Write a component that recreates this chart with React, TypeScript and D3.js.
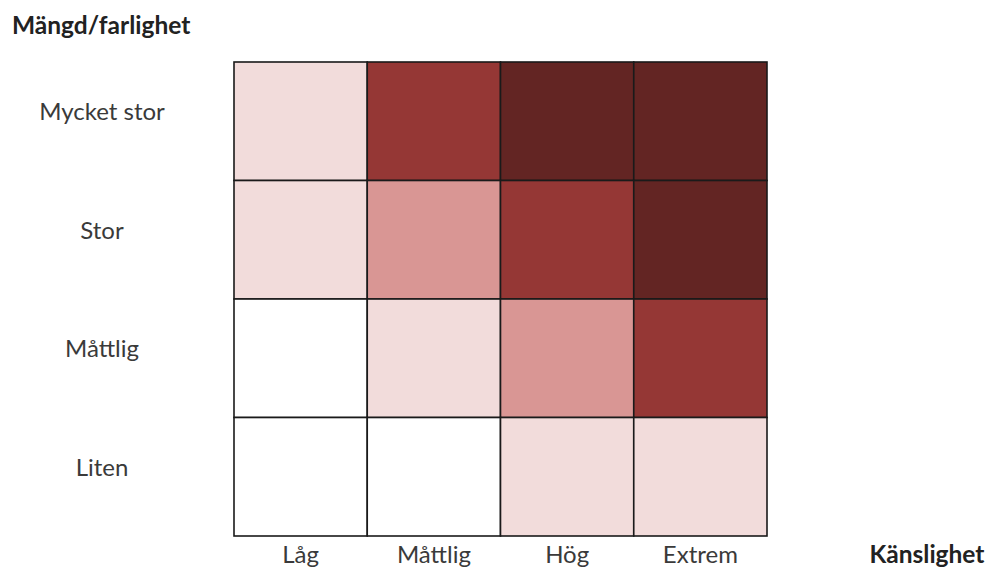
import React from "react";
import * as d3 from "d3";

const rowLabels = ["Mycket stor", "Stor", "Måttlig", "Liten"];
const colLabels = ["Låg", "Måttlig", "Hög", "Extrem"];
const levels = [
  [1, 3, 4, 4],
  [1, 2, 3, 4],
  [0, 1, 2, 3],
  [0, 0, 1, 1],
];
const levelColors = ["#ffffff", "#f2dcdb", "#d99694", "#953735", "#632523"];
const yTitle = "Mängd/farlighet";
const xTitle = "Känslighet";

export default function App() {
  const W = 988, H = 568;
  const x = d3.scaleBand<string>().domain(colLabels).range([234, 767]);
  const y = d3.scaleBand<string>().domain(rowLabels).range([62, 536]);
  const color = d3.scaleOrdinal<number, string>().domain([0, 1, 2, 3, 4]).range(levelColors);
  const font = "Lato, 'Noto Sans', sans-serif";
  return (
    <svg width={W} height={H} style={{ position: "absolute", left: 0, top: 0, background: "#fff" }} fontFamily={font}>
      <text x={12} y={34} fontSize={24.5} fontWeight={700} fill="#222">{yTitle}</text>
      {levels.map((row, i) =>
        row.map((v, j) => (
          <rect key={`${i}-${j}`} x={x(colLabels[j])} y={y(rowLabels[i])} width={x.bandwidth()} height={y.bandwidth()}
            fill={color(v)} stroke="#1a1a1a" strokeWidth={1.6} />
        ))
      )}
      {rowLabels.map((r) => (
        <text key={r} x={102} y={(y(r) as number) + y.bandwidth() / 2 - 1} textAnchor="middle" fontSize={24} fill="#3a3a3a">{r}</text>
      ))}
      {colLabels.map((c) => (
        <text key={c} x={(x(c) as number) + x.bandwidth() / 2} y={563} textAnchor="middle" fontSize={24} fill="#3a3a3a">{c}</text>
      ))}
      <text x={927} y={563} textAnchor="middle" fontSize={24.5} fontWeight={700} fill="#222">{xTitle}</text>
    </svg>
  );
}
